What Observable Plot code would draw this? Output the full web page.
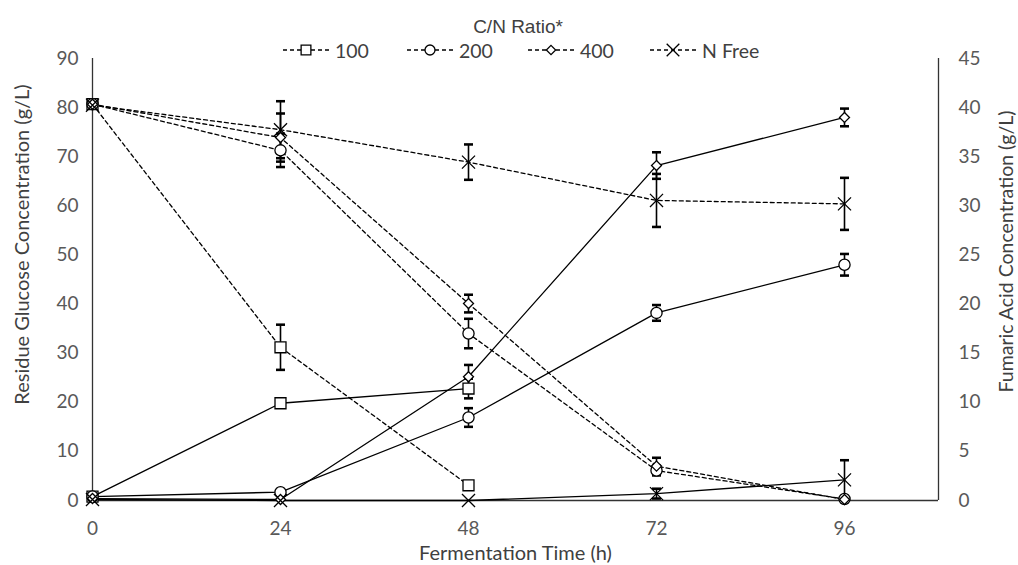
<!DOCTYPE html>
<html><head><meta charset="utf-8">
<script src="https://cdn.jsdelivr.net/npm/d3@7"></script>
<script src="https://cdn.jsdelivr.net/npm/@observablehq/plot@0.6"></script>
<style>
body{margin:0;background:#fff;}
#wrap{position:relative;width:1018px;height:565px;font-family:Lato,"Open Sans",sans-serif;}
#ltitle{position:absolute;left:0;width:1036px;top:15px;text-align:center;font-family:"Liberation Sans",Arial,sans-serif;font-size:19px;line-height:24px;color:#404040;}
#legend{position:absolute;left:0;top:38px;width:1018px;height:24px;font-size:19.5px;color:#404040;}
#legend .it{position:absolute;top:0;display:flex;align-items:center;height:24px;white-space:nowrap;}
#legend svg{margin-right:6px;}
#chart{position:absolute;left:0;top:0;}
</style></head>
<body><div id="wrap"><div id="chart"></div><div id="ltitle"></div><div id="legend"></div></div>
<script>
const hours = [0, 24, 48, 72, 96];
const seriesNames = ["100", "200", "400", "N Free"];
const legendTitle = "C/N Ratio*";
// Residue glucose (g/L), left axis
const glucose100 = [80.7, 31.2, 3.1, null, null];
const glucose100Err = [0.5, 4.6, 0.5, null, null];
const glucose200 = [80.7, 71.3, 34.0, 6.1, 0.3];
const glucose200Err = [0.5, 3.4, 3.0, 1.0, 0.3];
const glucose400 = [80.7, 73.9, 40.1, 7.0, 0.2];
const glucose400Err = [0.5, 4.9, 1.8, 1.7, 0.3];
const glucoseNF = [80.5, 75.5, 68.9, 61.1, 60.4];
const glucoseNFErr = [0.5, 5.8, 3.6, 5.4, 5.3];
// Fumaric acid (g/L), right axis
const acid100 = [0.4, 9.9, 11.4, null, null];
const acid100Err = [0.2, 0.3, 1.0, null, null];
const acid200 = [0.4, 0.85, 8.45, 19.1, 24.0];
const acid200Err = [0.2, 0.2, 0.95, 0.8, 1.1];
const acid400 = [0.2, 0.1, 12.6, 34.1, 39.0];
const acid400Err = [0.2, 0.1, 1.2, 1.35, 0.9];
const acidNF = [0.1, 0.0, 0.0, 0.7, 2.1];
const acidNFErr = [0.1, 0.1, 0.0, 0.5, 2.0];
const leftTicks = [0, 10, 20, 30, 40, 50, 60, 70, 80, 90];
const rightTicks = [0, 5, 10, 15, 20, 25, 30, 35, 40, 45];
const xMax = 108;

const glc = [glucose100, glucose200, glucose400, glucoseNF];
const glcE = [glucose100Err, glucose200Err, glucose400Err, glucoseNFErr];
const acd = [acid100, acid200, acid400, acidNF];
const acdE = [acid100Err, acid200Err, acid400Err, acidNFErr];
const symbols = ["square", "circle", "diamond2", "times"];
const radii = [6.2, 5.6, 4.5, 6];
const legendRadii = [5.5, 5, 4.2, 5.8];
const legendLeft = [283, 407, 528, 650];

const rows = [];
seriesNames.forEach((s, i) => hours.forEach((t, j) => {
  if (glc[i][j] == null) return;
  rows.push({series: s, t, glc: glc[i][j], glcErr: glcE[i][j], acid: acd[i][j], acidErr: acdE[i][j]});
}));
const A = 2; // right axis (0-45) drawn against the left scale (0-90)

const marks = [
  Plot.ruleX([0, xMax], {stroke: "#333", strokeWidth: 1.3}),
  Plot.ruleY([0], {stroke: "#333", strokeWidth: 1.3}),
  Plot.axisX({ticks: hours, tickSize: 0, tickPadding: 21, label: null}),
  Plot.axisY({anchor: "left", ticks: leftTicks, tickSize: 0, tickPadding: 14, label: null}),
  Plot.axisY({anchor: "right", ticks: rightTicks.map(v => v * A), tickFormat: d => d / A, tickSize: 0, tickPadding: 20, label: null}),
  Plot.line(rows, {x: "t", y: "glc", z: "series", stroke: "#000", strokeWidth: 1.3, strokeDasharray: "4,3"}),
  Plot.line(rows, {x: "t", y: d => d.acid * A, z: "series", stroke: "#000", strokeWidth: 1.3}),
  Plot.link(rows.filter(d => d.glcErr > 0.6), {x1: "t", x2: "t", y1: d => d.glc - d.glcErr, y2: d => d.glc + d.glcErr, stroke: "#000", strokeWidth: 1.6, markerStart: "tick", markerEnd: "tick"}),
  Plot.link(rows.filter(d => d.acidErr > 0.3), {x1: "t", x2: "t", y1: d => (d.acid - d.acidErr) * A, y2: d => (d.acid + d.acidErr) * A, stroke: "#000", strokeWidth: 1.6, markerStart: "tick", markerEnd: "tick"}),
  ...seriesNames.flatMap((s, i) => {
    const data = rows.filter(d => d.series === s);
    return [
      Plot.dot(data, {x: "t", y: "glc", symbol: symbols[i], r: radii[i], fill: "white", stroke: "#000", strokeWidth: 1.3}),
      Plot.dot(data, {x: "t", y: d => d.acid * A, symbol: symbols[i], r: radii[i], fill: "white", stroke: "#000", strokeWidth: 1.3})
    ];
  }),
  Plot.text(["Residue Glucose Concentration (g/L)"], {frameAnchor: "left", textAnchor: "middle", lineAnchor: "middle", dx: -70, dy: -35, rotate: -90, fontSize: 20, fill: "#404040"}),
  Plot.text(["Fumaric Acid Concentration (g/L)"], {frameAnchor: "right", textAnchor: "middle", lineAnchor: "middle", dx: 68, dy: -28, rotate: -90, fontSize: 19.5, fill: "#404040"}),
  Plot.text(["Fermentation Time (h)"], {frameAnchor: "bottom", textAnchor: "middle", lineAnchor: "middle", dy: 53, fontSize: 20, fill: "#404040"})
];

const chart = Plot.plot({
  width: 1018, height: 565,
  marginLeft: 92, marginRight: 80, marginTop: 58, marginBottom: 65,
  x: {domain: [0, xMax]},
  y: {domain: [0, 90]},
  style: {fontFamily: "Lato, 'Open Sans', sans-serif", fontSize: "19px", color: "#595959", background: "white"},
  marks
});
document.getElementById("chart").appendChild(chart);

document.getElementById("ltitle").textContent = legendTitle;
const leg = d3.select("#legend");
seriesNames.forEach((s, i) => {
  const it = leg.append("div").attr("class", "it").style("left", legendLeft[i] + "px");
  const sv = it.append("svg").attr("width", 46).attr("height", 20);
  sv.append("line").attr("x1", 0).attr("x2", 46).attr("y1", 10).attr("y2", 10)
    .attr("stroke", "#000").attr("stroke-width", 1.3).attr("stroke-dasharray", "4,3");
  const typ = {square: d3.symbolSquare, circle: d3.symbolCircle, diamond2: d3.symbolDiamond2, times: d3.symbolTimes}[symbols[i]];
  sv.append("path").attr("transform", "translate(23,10)")
    .attr("d", d3.symbol(typ, Math.PI * legendRadii[i] * legendRadii[i])())
    .attr("fill", "white").attr("stroke", "#000").attr("stroke-width", 1.3);
  it.append("span").text(s);
});
</script></body></html>
